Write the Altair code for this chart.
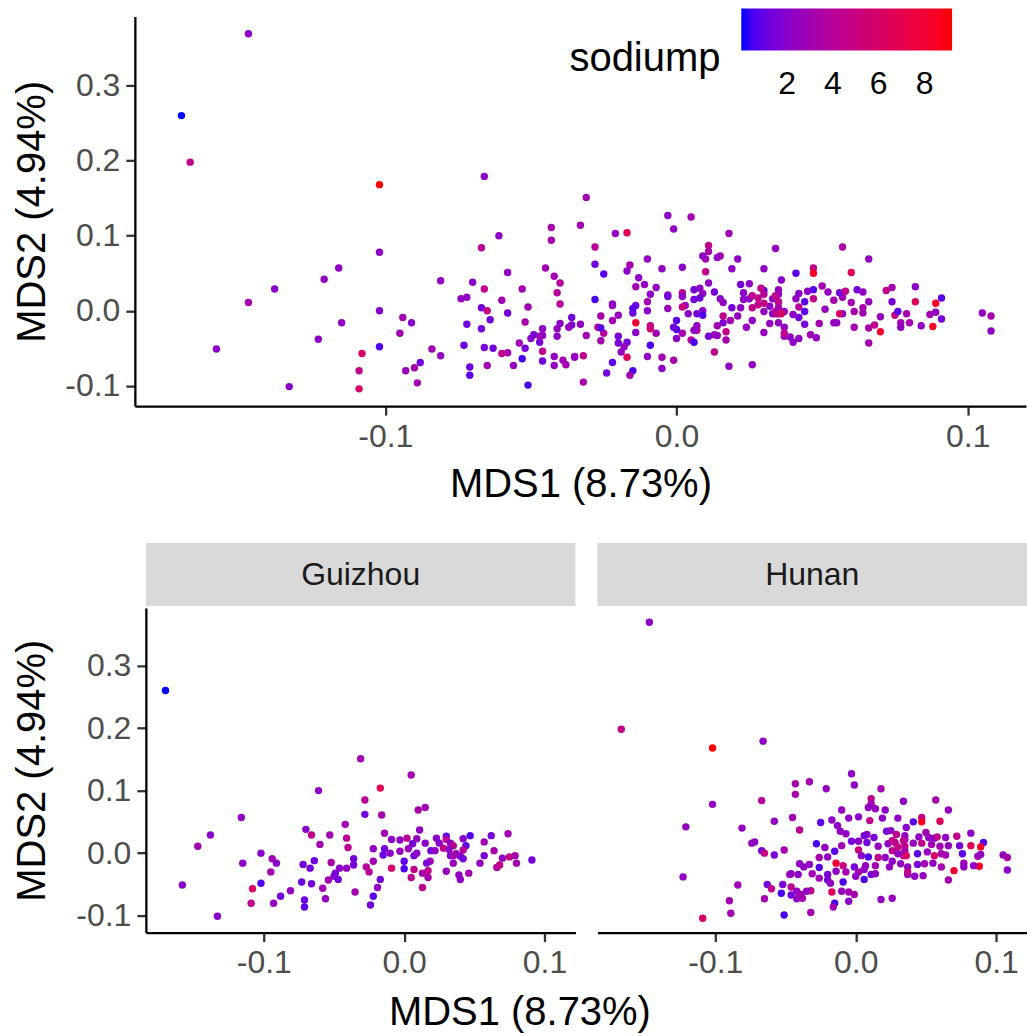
import altair as alt
import pandas as pd

FONT = "Liberation Sans"

# Guizhou samples: MDS1, MDS2, sodiump
gz_x = [-0.170, -0.031, -0.061, -0.028, -0.028, -0.116, -0.138, -0.147, -0.070, -0.042,
        -0.066, -0.053, -0.060, -0.041, -0.040, -0.102, -0.094, -0.091, -0.115, -0.095,
        -0.072, -0.064, -0.067, -0.052, -0.036, -0.036, -0.046, -0.041, -0.027, -0.158,
        -0.108, -0.102, -0.109, -0.093, -0.088, -0.081, -0.073, -0.066, -0.071, -0.071,
        -0.058, -0.056, -0.054, -0.050, -0.047, -0.049, -0.035, -0.133,
        0.005, -0.017, -0.016, 0.010, 0.015, 0.011, -0.014, -0.009, -0.003, 0.002,
        0.006, 0.009, 0.015, -0.022, -0.014, -0.015, -0.010, -0.003, 0.003, 0.007,
        0.009, 0.019, 0.022, 0.023, 0.030, 0.030, 0.025, 0.033, 0.035, 0.028,
        0.042, 0.047, 0.044, 0.042, 0.037, 0.033, 0.040, 0.042, 0.035, 0.030,
        0.039, 0.040, 0.046, 0.057, 0.062, 0.074, 0.064, 0.057, 0.054, 0.066,
        0.068, 0.070, 0.075, 0.079, 0.080, 0.091, -0.022, -0.025, -0.009, 0.000,
        0.000, 0.007, 0.005, 0.013, 0.017, 0.0185, 0.016, 0.017, 0.013, -0.017,
        -0.019, -0.022, -0.024, 0.032, 0.035]
gz_y = [0.260, 0.151, 0.100, 0.085, 0.062, 0.057, 0.029, 0.011, 0.038, 0.046,
        0.029, 0.029, 0.014, 0.024, 0.009, 0.000, -0.009, -0.016, -0.016, -0.030,
        -0.018, -0.012, -0.024, -0.015, -0.009, -0.019, -0.024, -0.024, -0.022, -0.051,
        -0.057, -0.048, -0.080, -0.080, -0.069, -0.060, -0.046, -0.049, -0.075, -0.086,
        -0.056, -0.073, -0.043, -0.037, -0.042, -0.032, -0.062, -0.101,
        0.125, 0.104, 0.061, 0.069, 0.073, 0.037, 0.032, 0.022, 0.021, 0.024,
        0.015, 0.023, 0.016, 0.007, 0.007, -0.003, 0.000, 0.003, 0.007, -0.004,
        0.000, 0.004, 0.004, 0.024, 0.027, 0.022, 0.016, 0.016, 0.012, 0.008,
        0.023, 0.028, 0.012, 0.005, -0.001, -0.004, -0.005, -0.009, -0.016, -0.029,
        -0.035, -0.042, -0.032, 0.018, 0.028, 0.031, 0.004, -0.004, -0.016, -0.023,
        -0.019, -0.008, -0.006, -0.004, -0.016, -0.011, -0.013, -0.030, -0.024, -0.013,
        -0.025, -0.026, -0.039, -0.032, -0.028, -0.013, -0.016, -0.039, -0.055, -0.042,
        -0.055, -0.069, -0.083, 0.006, -0.004]
gz_s = [0.0, 3.0, 2.2, 4.0, 1.3, 2.3, 2.0, 3.0, 2.0, 3.0,
        4.5, 3.0, 3.0, 4.0, 4.2, 2.0, 3.0, 2.0, 2.2, 3.0,
        1.3, 1.2, 1.3, 3.2, 1.3, 1.5, 2.2, 2.4, 4.0, 2.0,
        6.0, 0.6, 4.5, 2.4, 1.3, 2.4, 1.2, 1.4, 1.2, 0.8,
        3.0, 2.5, 3.0, 2.0, 1.3, 1.5, 3.2, 2.0,
        3.0, 6.8, 3.2, 3.2, 3.0, 2.2, 3.0, 2.2, 2.3, 4.2,
        1.4, 2.4, 2.2, 2.4, 1.3, 1.2, 2.2, 2.5, 2.6, 1.4,
        2.2, 1.3, 2.2, 2.0, 0.8, 4.0, 2.0, 2.2, 4.3, 4.5,
        2.0, 0.7, 0.9, 4.0, 2.5, 1.5, 2.2, 1.3, 2.5, 2.5,
        2.4, 2.2, 3.0, 3.0, 1.4, 3.0, 3.2, 1.5, 2.4, 3.5,
        4.5, 2.4, 4.8, 3.2, 3.0, 1.4, 3.0, 4.0, 5.8, 0.8,
        0.6, 4.5, 4.2, 3.2, 4.5, 3.0, 1.6, 3.2, 4.5, 1.4,
        2.4, 0.8, 1.3, 2.2, 3.0]

# Hunan samples: MDS1, MDS2, sodiump
hn_x = [-0.147, -0.167, -0.102, -0.066, -0.102, -0.067, -0.121, -0.081, -0.058, -0.045,
        -0.043, -0.043, -0.074, -0.072, -0.067, -0.065, -0.058, -0.051, -0.123, -0.084,
        -0.090, -0.089, -0.109, -0.065, -0.063, -0.060, -0.052, -0.053, -0.046, -0.046,
        -0.047, -0.051,
        -0.003, -0.033, -0.021, -0.001, 0.018, 0.011, 0.011, 0.034, 0.009, 0.014,
        0.021, -0.010, -0.025, -0.017, -0.005, 0.002, 0.010, 0.019, 0.030, -0.040,
        -0.013, -0.011, -0.007, 0.008, 0.013, 0.022, 0.025, 0.029, 0.036, -0.028,
        -0.022, -0.015, -0.010, -0.003, 0.002, 0.002, 0.008, 0.016, 0.023, 0.028,
        0.030, -0.026, -0.020, -0.014, -0.009, -0.001, 0.004, 0.009, 0.016, 0.021,
        0.026, 0.034, -0.026, -0.040, -0.037, -0.033, -0.046, -0.041, -0.031, -0.020,
        -0.014, -0.007, 0.002, 0.006, 0.011, 0.006, 0.000, -0.026, -0.020, -0.018,
        -0.009, -0.042, -0.039, -0.032, -0.035, -0.017, -0.010, -0.005, -0.001, -0.015,
        -0.016, -0.042, -0.038, -0.032, 0.018, 0.026, -0.005,
        0.057, 0.066, 0.041, 0.047, 0.047, 0.060, 0.050, 0.035, 0.041, 0.045,
        0.047, 0.056, 0.058, 0.064, 0.072, 0.082, 0.091, 0.089, 0.082, 0.074,
        0.066, 0.060, 0.054, 0.035, 0.034, 0.044, 0.051, 0.056, 0.061, 0.064,
        0.076, 0.087, 0.089, 0.105, 0.108, 0.108, 0.088, 0.084, 0.077, 0.077,
        0.070, 0.066, 0.061, 0.055, 0.049, 0.044, 0.037, 0.037, 0.042, 0.048,
        0.035, 0.006, 0.052, 0.026, 0.034, 0.026, 0.035, 0.030, 0.036, 0.007,
        0.014, 0.024, 0.032, 0.014, 0.037]
hn_y = [0.369, 0.198, 0.168, 0.179, 0.078, 0.084, 0.042, 0.040, 0.051, 0.057,
        0.111, 0.094, 0.016, 0.018, 0.004, 0.000, -0.003, 0.005, -0.038, -0.051,
        -0.076, -0.096, -0.104, -0.073, -0.050, -0.057, -0.050, -0.064, -0.067, -0.054,
        -0.034, -0.099,
        0.127, 0.114, 0.103, 0.109, 0.103, 0.087, 0.079, 0.083, 0.073, 0.071,
        0.069, 0.069, 0.049, 0.053, 0.056, 0.058, 0.052, 0.056, 0.056, 0.037,
        0.044, 0.035, 0.031, 0.030, 0.025, 0.035, 0.036, 0.030, 0.041, 0.015,
        0.009, 0.003, 0.012, 0.019, 0.005, 0.019, 0.017, 0.011, 0.015, 0.017,
        0.010, -0.007, -0.006, -0.016, -0.020, -0.022, -0.004, -0.006, -0.007, -0.007,
        -0.013, -0.004, -0.023, -0.017, -0.022, -0.018, -0.033, -0.034, -0.033, -0.034,
        -0.029, -0.030, -0.030, -0.026, -0.034, -0.042, -0.037, -0.040, -0.043, -0.048,
        -0.046, -0.061, -0.066, -0.060, -0.061, -0.062, -0.061, -0.062, -0.066, -0.080,
        -0.086, -0.073, -0.072, -0.095, -0.074, -0.072, -0.077,
        0.085, 0.069, 0.050, 0.057, 0.050, 0.051, 0.033, 0.022, 0.016, 0.026,
        0.016, 0.024, 0.026, 0.025, 0.027, 0.032, 0.017, 0.010, 0.012, 0.012,
        0.012, 0.011, 0.014, 0.011, -0.001, -0.001, 0.002, -0.004, -0.001, -0.003,
        -0.001, -0.005, -0.002, -0.003, -0.007, -0.027, -0.021, -0.020, -0.016, -0.022,
        -0.028, -0.043, -0.022, -0.016, -0.017, -0.018, -0.022, -0.034, -0.037, -0.036,
        0.028, 0.028, 0.025, 0.020, 0.020, 0.004, 0.004, -0.001, -0.004, -0.020,
        -0.020, -0.022, -0.017, -0.033, -0.030]
hn_s = [2.2, 4.5, 9.2, 2.2, 2.2, 4.0, 2.4, 2.4, 2.4, 3.0,
        3.2, 3.2, 2.4, 2.2, 1.3, 5.0, 1.4, 3.0, 2.2, 3.0,
        3.0, 3.0, 6.0, 3.0, 1.3, 4.5, 1.5, 0.5, 1.3, 4.3,
        3.0, 0.5,
        2.2, 3.0, 2.4, 2.2, 3.0, 4.5, 3.2, 2.4, 2.2, 2.4,
        2.2, 2.4, 0.8, 2.2, 2.2, 2.0, 4.5, 2.2, 2.2, 4.0,
        2.2, 2.4, 2.4, 2.2, 1.5, 1.4, 2.2, 4.5, 2.0, 0.5,
        2.4, 0.8, 3.0, 1.4, 5.0, 2.2, 1.3, 2.4, 2.2, 4.5,
        4.8, 3.2, 2.4, 8.0, 5.0, 1.3, 2.2, 0.7, 4.5, 2.4,
        2.2, 4.5, 0.7, 2.2, 2.4, 2.2, 2.4, 2.2, 3.0, 1.5,
        2.2, 3.0, 3.2, 2.2, 1.4, 0.6, 2.2, 3.0, 1.5, 2.4,
        0.6, 2.4, 3.0, 4.5, 2.4, 6.5, 2.4, 3.0, 3.2, 0.5,
        3.0, 2.4, 3.0, 3.2, 2.4, 2.4, 2.2,
        3.2, 2.4, 0.8, 4.5, 8.5, 6.5, 3.0, 2.2, 2.4, 2.2,
        4.5, 1.5, 4.5, 2.4, 4.5, 2.2, 0.8, 8.5, 6.5, 1.5,
        2.4, 3.0, 3.0, 4.5, 4.2, 0.8, 2.4, 6.0, 3.2, 3.0,
        0.8, 3.0, 2.4, 2.4, 3.2, 2.2, 8.5, 2.4, 3.0, 2.4,
        8.0, 3.0, 3.0, 2.4, 3.0, 1.5, 2.4, 2.4, 2.2, 2.4,
        2.4, 1.5, 2.4, 4.5, 4.5, 4.5, 3.2, 2.4, 6.0, 2.4,
        3.0, 2.4, 2.4, 2.4, 4.5]

provinces = ["Guizhou", "Hunan"]
x_ticks = [-0.1, 0.0, 0.1]
y_ticks = [-0.1, 0.0, 0.1, 0.2, 0.3]
legend_ticks = [2, 4, 6, 8]

df = pd.concat([
    pd.DataFrame({"MDS1": gz_x, "MDS2": gz_y, "sodiump": gz_s, "province": provinces[0]}),
    pd.DataFrame({"MDS1": hn_x, "MDS2": hn_y, "sodiump": hn_s, "province": provinces[1]}),
], ignore_index=True)

label_expr = "datum.value < 0 ? '-' + format(-datum.value, '.1f') : format(datum.value, '.1f')"
yscale = alt.Scale(domain=[-0.127, 0.392], nice=False, zero=False)
cscale = alt.Scale(domain=[0, 9.2], range=["#0000FF", "#FF0000"], interpolate="lab")
PT = 55
INSET = 11  # facet panels sit slightly right of the top panel's left edge
CELL_W = 441

top = alt.Chart(df).mark_circle(size=PT, opacity=1).encode(
    x=alt.X("MDS1:Q", scale=alt.Scale(domain=[-0.186, 0.120], nice=False, zero=False),
            axis=alt.Axis(values=x_ticks, labelExpr=label_expr, title="MDS1 (8.73%)")),
    y=alt.Y("MDS2:Q", scale=yscale,
            axis=alt.Axis(values=y_ticks, labelExpr=label_expr, title="MDS2 (4.94%)")),
    color=alt.Color("sodiump:Q", scale=cscale,
                    legend=alt.Legend(orient="none", legendX=435, legendY=-8,
                                      direction="horizontal", gradientLength=211,
                                      gradientThickness=42, gradientStrokeWidth=0,
                                      titleOrient="left", title="sodiump",
                                      titleFontSize=40, titleFontWeight="normal",
                                      titleColor="black", titleFont=FONT,
                                      titlePadding=20, titleAnchor="middle",
                                      titleBaseline="line-top", titleLineHeight=60,
                                      labelFontSize=32, labelColor="black", labelFont=FONT,
                                      labelOffset=19, values=legend_ticks)),
).properties(width=892, height=390)

pts = alt.Chart().mark_circle(size=PT, opacity=1).encode(
    x=alt.X("MDS1:Q",
            scale=alt.Scale(domain=[-0.184, 0.122], nice=False, zero=False,
                            range=[INSET, CELL_W]),
            axis=alt.Axis(values=x_ticks, labelExpr=label_expr, title=None)),
    y=alt.Y("MDS2:Q", scale=yscale,
            axis=alt.Axis(values=y_ticks, labelExpr=label_expr, title="MDS2 (4.94%)",
                          offset=-INSET, titlePadding=12 + INSET)),
    color=alt.Color("sodiump:Q", scale=cscale, legend=None),
)
strip_rect = alt.Chart().transform_aggregate(
    n="count()", groupby=["province"]
).mark_rect(color="#D9D9D9").encode(
    x=alt.value(INSET), x2=alt.value(CELL_W), y=alt.value(-65), y2=alt.value(-2)
)
strip_text = alt.Chart().transform_aggregate(
    n="count()", groupby=["province"]
).mark_text(fontSize=32, color="#1A1A1A", font=FONT).encode(
    text="province:N", x=alt.value((INSET + CELL_W) / 2), y=alt.value(-33)
)

bottom = alt.layer(pts, strip_rect, strip_text, data=df).properties(
    width=CELL_W, height=325
).facet(
    column=alt.Column("province:N", sort=provinces, header=alt.Header(labels=False, title=None)),
    spacing=22 - INSET,
).properties(
    title=alt.TitleParams("MDS1 (8.73%)", orient="bottom", anchor="middle", fontSize=40,
                          fontWeight="normal", font=FONT, color="black", offset=14)
)

chart = alt.vconcat(top, bottom, spacing=39).resolve_legend(
    color="independent"
).properties(
    padding={"left": 12, "top": 8, "right": 0, "bottom": 0}
).configure(font=FONT, background="white").configure_view(stroke=None).configure_axis(
    grid=False, domainColor="black", domainWidth=2.3, tickColor="#333333", tickWidth=2.3,
    tickSize=9, labelColor="#4D4D4D", labelFontSize=32, labelFont=FONT, labelPadding=6,
    titleFontSize=40, titleFont=FONT, titleFontWeight="normal", titleColor="black",
    titlePadding=12,
)

chart.save("out.html", embed_options={"renderer": "svg", "actions": False})
